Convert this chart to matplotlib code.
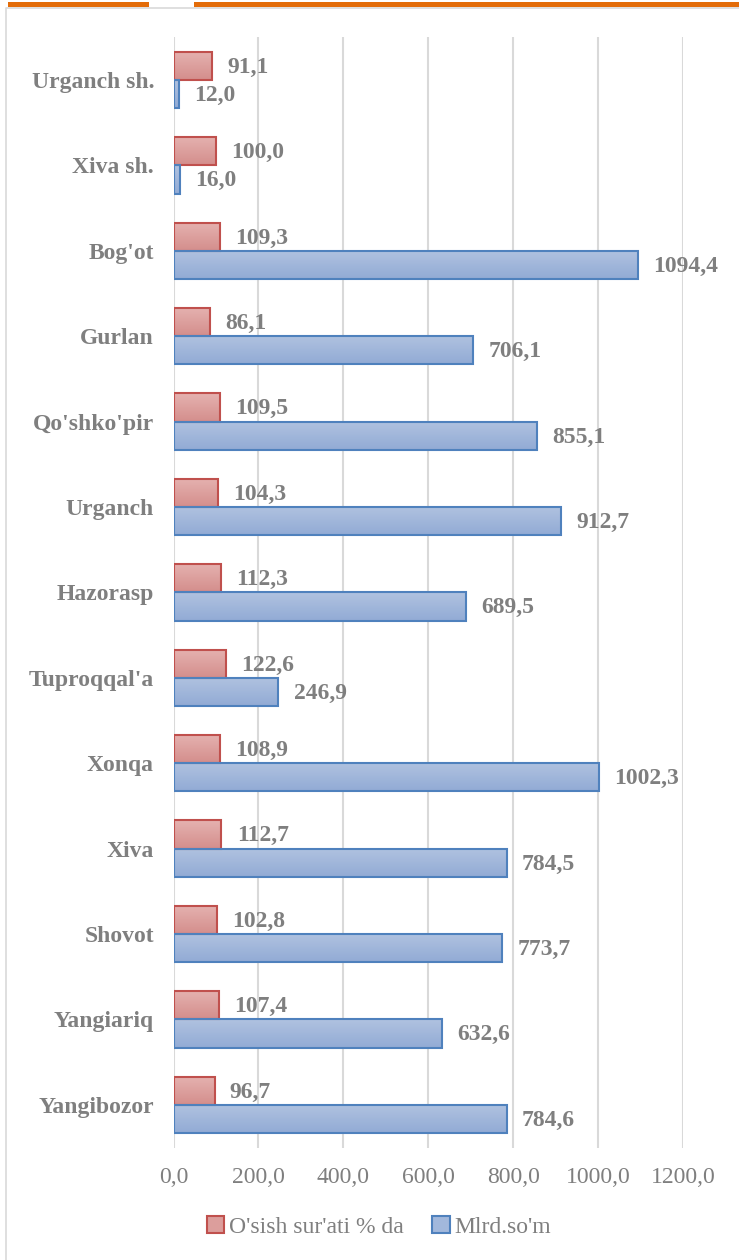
import numpy as np
import matplotlib
matplotlib.use("Agg")
import matplotlib.pyplot as plt
from matplotlib.patches import Rectangle, Patch
from matplotlib.colors import LinearSegmentedColormap

categories = ["Urganch sh.", "Xiva sh.", "Bog'ot", "Gurlan", "Qo'shko'pir", "Urganch",
              "Hazorasp", "Tuproqqal'a", "Xonqa", "Xiva", "Shovot", "Yangiariq", "Yangibozor"]
growth = [91.1, 100.0, 109.3, 86.1, 109.5, 104.3, 112.3, 122.6, 108.9, 112.7, 102.8, 107.4, 96.7]
volume = [12.0, 16.0, 1094.4, 706.1, 855.1, 912.7, 689.5, 246.9, 1002.3, 784.5, 773.7, 632.6, 784.6]
xticks = [0, 200, 400, 600, 800, 1000, 1200]
legend_labels = ["O'sish sur'ati % da", "Mlrd.so'm"]

W, H = 739, 1260
plt.rcParams['font.family'] = ['Liberation Serif', 'DejaVu Serif']

fig = plt.figure(figsize=(W / 100, H / 100), dpi=100)

# outer frame (no bottom edge visible) and orange strips at the top
fig.add_artist(plt.Line2D([5.5 / W, 5.5 / W, 1.0], [0, 1 - 8 / H, 1 - 8 / H],
                          transform=fig.transFigure, color='#d9d9d9', lw=1.2))
fig.patches.append(Rectangle((8 / W, 1 - 7 / H), 141 / W, 5 / H, transform=fig.transFigure,
                             color='#e36c09', lw=0))
fig.patches.append(Rectangle((194 / W, 1 - 7 / H), 545 / W, 5 / H, transform=fig.transFigure,
                             color='#e36c09', lw=0))

ax = fig.add_axes([173.5 / W, 1 - 1147.5 / H, (683 - 173.5) / W, (1147.5 - 37.3) / H])

y = np.arange(len(categories))
h = 0.33
red_top, red_bot, red_edge = '#e5b2b0', '#d48e8c', '#c0504d'
blue_top, blue_bot, blue_edge = '#b0c2e0', '#92abd5', '#4f81bd'

red_bars = ax.barh(y - h / 2, growth, height=h, color='none', edgecolor=red_edge, lw=1.5, zorder=3)
blue_bars = ax.barh(y + h / 2, volume, height=h, color='none', edgecolor=blue_edge, lw=1.5, zorder=3)

grad = np.linspace(0, 1, 64).reshape(-1, 1)
for bars, c1, c2 in [(red_bars, red_top, red_bot), (blue_bars, blue_top, blue_bot)]:
    cmap = LinearSegmentedColormap.from_list('g', [c1, c2])
    for b in bars:
        x0, y0 = b.get_x(), b.get_y()
        im = ax.imshow(grad, cmap=cmap, aspect='auto', interpolation='bilinear',
                       extent=(x0, x0 + b.get_width(), y0 + b.get_height(), y0), zorder=2)
        im.set_clip_path(b)

label_color = '#7f7f7f'
for i in range(len(categories)):
    ax.annotate(f"{growth[i]:.1f}".replace('.', ','), (growth[i], y[i] - h / 2),
                xytext=(11, -1), textcoords='offset points', va='center', ha='left',
                fontsize=17, fontweight='bold', color=label_color, zorder=4)
    ax.annotate(f"{volume[i]:.1f}".replace('.', ','), (volume[i], y[i] + h / 2),
                xytext=(11, -1), textcoords='offset points', va='center', ha='left',
                fontsize=17, fontweight='bold', color=label_color, zorder=4)

ax.set_xlim(0, 1200)
ax.set_ylim(len(categories) - 0.5, -0.5)
ax.set_xticks(xticks)
ax.set_xticklabels([f"{t:.1f}".replace('.', ',') for t in xticks], fontsize=17, color='#7f7f7f')
ax.set_yticks(y)
ax.set_yticklabels(categories, fontsize=17, fontweight='bold', color='#7f7f7f')
ax.tick_params(axis='both', length=0)
ax.tick_params(axis='x', pad=14)
ax.tick_params(axis='y', pad=14)
ax.grid(axis='x', color='#d9d9d9', lw=1.5, zorder=0)
for s in ax.spines.values():
    s.set_visible(False)

handles = [Patch(facecolor='#dc9e9c', edgecolor=red_edge, lw=1.5),
           Patch(facecolor='#a2b8dc', edgecolor=blue_edge, lw=1.5)]
fig.legend(handles, legend_labels, loc='center', bbox_to_anchor=(379 / W, 1 - 1227 / H),
           ncol=2, frameon=False, fontsize=17, labelcolor='#7f7f7f',
           handlelength=0.75, handleheight=0.75, handletextpad=0.2, columnspacing=1.2)

fig.savefig("out.png", dpi=100)
